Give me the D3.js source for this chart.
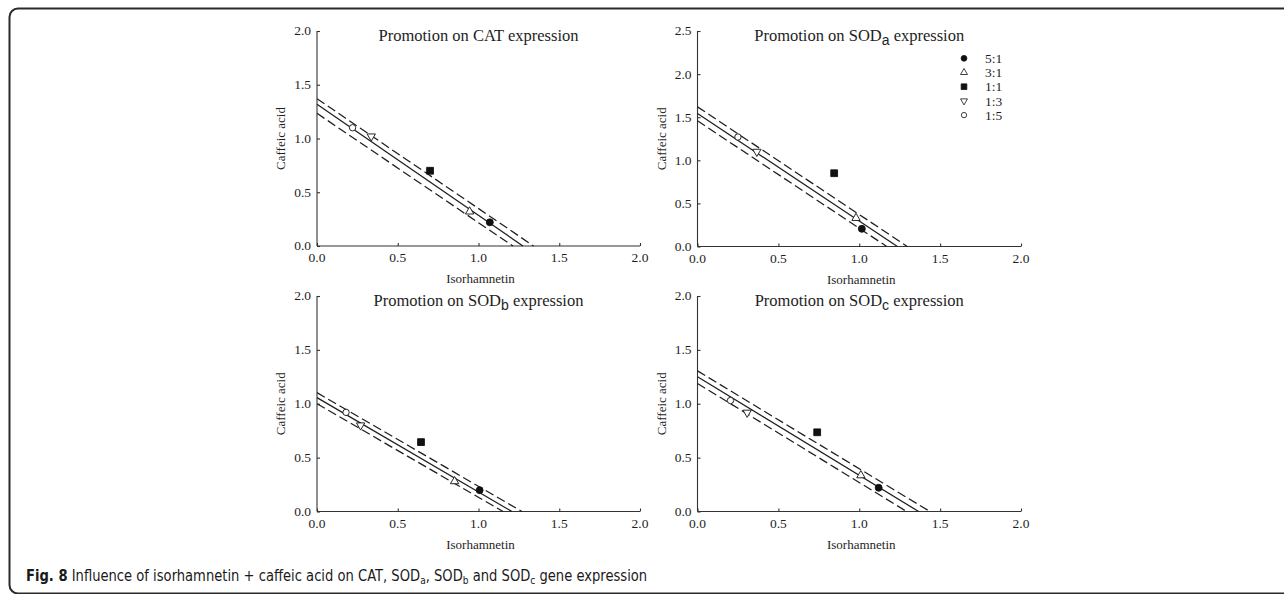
<!DOCTYPE html>
<html>
<head>
<meta charset="utf-8">
<script src="https://cdn.jsdelivr.net/npm/d3@7"></script>
<style>
    body { margin: 0; background: #fff; }
    svg { display: block; }
    .tick-label, .axis-title, .legend-text { font-family: "Liberation Serif", "Times New Roman", serif; fill: #1e1e1e; }
    .panel-title { font-family: "Liberation Serif", "Times New Roman", serif; fill: #1e1e1e; }
</style>
</head>
<body>
<div id="chart"></div>
<script>
'use strict';

// ratios isorhamnetin : caffeic acid, same order in every value array below
var ratios = ["5:1", "3:1", "1:1", "1:3", "1:5"];
var genes  = ["CAT", "SODa", "SODb", "SODc"];

var catIso  = [1.07, 0.945, 0.70, 0.336, 0.22];
var catCaf  = [0.22, 0.32, 0.70, 1.02, 1.10];
var sodaIso = [1.016, 0.98, 0.845, 0.367, 0.25];
var sodaCaf = [0.205, 0.33, 0.85, 1.10, 1.27];
var sodbIso = [1.007, 0.852, 0.644, 0.27, 0.18];
var sodbCaf = [0.198, 0.28, 0.644, 0.80, 0.92];
var sodcIso = [1.12, 1.01, 0.74, 0.307, 0.204];
var sodcCaf = [0.22, 0.335, 0.735, 0.918, 1.03];

// isobole lines: [caffeic acid intercept, isorhamnetin intercept] for lower, additive, upper
var catLines  = [[1.234, 1.213], [1.318, 1.275], [1.37, 1.341]];
var sodaLines = [[1.458, 1.17], [1.544, 1.236], [1.62, 1.297]];
var sodbLines = [[1.0, 1.152], [1.057, 1.207], [1.103, 1.269]];
var sodcLines = [[1.188, 1.293], [1.25, 1.367], [1.305, 1.437]];

var yMax      = [2.0, 2.5, 2.0, 2.0];
var xTicks    = [0, 0.5, 1.0, 1.5, 2.0];

var svgWidth = 1284, svgHeight = 594;

var svg = d3.select("#chart")
    .append("svg")
    .attr("width", svgWidth)
    .attr("height", svgHeight);

// rounded frame of the figure box
svg.append("path")
    .attr("d", "M1290,8.5 H18 A8.5,8.5 0 0 0 9.5,17 V585 A8.5,8.5 0 0 0 18,593.5 H1290")
    .attr("fill", "none")
    .attr("stroke", "#2a2a2a")
    .attr("stroke-width", 2);

var panels = [
    { gene: genes[0], sub: null, iso: catIso,  caf: catCaf,  lines: catLines,  x: [317, 640],   y: [246, 31] },
    { gene: "SOD",    sub: "a",  iso: sodaIso, caf: sodaCaf, lines: sodaLines, x: [697.5, 1021], y: [246.5, 31] },
    { gene: "SOD",    sub: "b",  iso: sodbIso, caf: sodbCaf, lines: sodbLines, x: [317, 640],   y: [511.5, 296] },
    { gene: "SOD",    sub: "c",  iso: sodcIso, caf: sodcCaf, lines: sodcLines, x: [697.5, 1021], y: [511.5, 296] }
];

var markerStyles = [
    { type: d3.symbolCircle,   fill: "#111", rotate: 0,   size: 38 },
    { type: d3.symbolTriangle, fill: "#fff", rotate: 0,   size: 30 },
    { type: d3.symbolSquare,   fill: "#111", rotate: 0,   size: 46 },
    { type: d3.symbolTriangle, fill: "#fff", rotate: 180, size: 30 },
    { type: d3.symbolCircle,   fill: "#fff", rotate: 0,   size: 32 }
];

panels.forEach(function(p, pi) {
    var x = d3.scaleLinear().domain([0, 2]).range(p.x);
    var y = d3.scaleLinear().domain([0, yMax[pi]]).range(p.y);
    var g = svg.append("g");

    // axes, ticks pointing inward
    var xAxis = d3.axisTop(x).tickValues(xTicks).tickSize(3).tickFormat("");
    var yAxis = d3.axisRight(y).tickValues(d3.range(0, yMax[pi] + 0.01, 0.5)).tickSize(3).tickFormat("");

    g.append("g")
        .attr("transform", "translate(0," + y(0) + ")")
        .call(xAxis)
        .call(function(s) { s.selectAll("path, line").attr("stroke", "#333").attr("stroke-width", 1.1); s.select(".domain").attr("d", "M" + x(0) + ",0H" + x(2)); });
    g.append("g")
        .attr("transform", "translate(" + x(0) + ",0)")
        .call(yAxis)
        .call(function(s) { s.selectAll("path, line").attr("stroke", "#333").attr("stroke-width", 1.1); s.select(".domain").attr("d", "M0," + y(0) + "V" + y(yMax[pi])); });

    g.selectAll(".xlab")
        .data(xTicks)
        .enter().append("text")
        .attr("class", "tick-label")
        .attr("x", function(d) { return x(d); })
        .attr("y", y(0) + 16)
        .attr("text-anchor", "middle")
        .style("font-size", "13.5px")
        .text(function(d) { return d3.format(".1f")(d); });

    g.selectAll(".ylab")
        .data(d3.range(0, yMax[pi] + 0.01, 0.5))
        .enter().append("text")
        .attr("class", "tick-label")
        .attr("x", x(0) - 6)
        .attr("y", function(d) { return y(d); })
        .attr("dy", "0.33em")
        .attr("text-anchor", "end")
        .style("font-size", "13.5px")
        .text(function(d) { return d3.format(".1f")(d); });

    g.append("text")
        .attr("class", "axis-title")
        .attr("x", (p.x[0] + p.x[1]) / 2 + 2)
        .attr("y", y(0) + 37)
        .attr("text-anchor", "middle")
        .style("font-size", "13px")
        .text("Isorhamnetin");

    g.append("text")
        .attr("class", "axis-title")
        .attr("transform", "translate(" + (x(0) - 32) + "," + ((p.y[0] + p.y[1]) / 2) + ") rotate(-90)")
        .attr("text-anchor", "middle")
        .style("font-size", "13px")
        .text("Caffeic acid");

    // title with subscript
    var title = g.append("text")
        .attr("class", "panel-title")
        .attr("x", (p.x[0] + p.x[1]) / 2)
        .attr("y", p.y[1] + 10)
        .attr("text-anchor", "middle")
        .style("font-size", "16.5px");
    title.append("tspan").text("Promotion on " + p.gene);
    if (p.sub) {
        title.append("tspan")
            .attr("dy", 4)
            .style("font-family", "'Liberation Sans', Arial, sans-serif")
            .style("font-size", "14px")
            .text(p.sub);
        title.append("tspan").attr("dy", -4).text(" expression");
    } else {
        title.append("tspan").text(" expression");
    }

    // isobole lines
    var dashes = ["9,4", null, "9,4"];
    g.selectAll(".iso-line")
        .data(p.lines)
        .enter().append("line")
        .attr("x1", x(0))
        .attr("y1", function(d) { return y(d[0]); })
        .attr("x2", function(d) { return x(d[1]); })
        .attr("y2", y(0))
        .attr("stroke", "#1e1e1e")
        .attr("stroke-width", 1.25)
        .attr("stroke-dasharray", function(d, i) { return dashes[i]; });

    // combination points
    g.selectAll(".pt")
        .data(ratios)
        .enter().append("path")
        .attr("d", function(d, i) { return d3.symbol().type(markerStyles[i].type).size(markerStyles[i].size)(); })
        .attr("transform", function(d, i) {
            return "translate(" + x(p.iso[i]) + "," + y(p.caf[i]) + ") rotate(" + markerStyles[i].rotate + ")";
        })
        .attr("fill", function(d, i) { return markerStyles[i].fill; })
        .attr("stroke", "#111")
        .attr("stroke-width", 0.9);

    // legend only on the SODa panel
    if (pi === 1) {
        var lg = g.selectAll(".legend")
            .data(ratios)
            .enter().append("g")
            .attr("transform", function(d, i) { return "translate(964," + (58.3 + i * 14.2) + ")"; });
        lg.append("path")
            .attr("d", function(d, i) { return d3.symbol().type(markerStyles[i].type).size(markerStyles[i].size * 0.7)(); })
            .attr("transform", function(d, i) { return "rotate(" + markerStyles[i].rotate + ")"; })
            .attr("fill", function(d, i) { return markerStyles[i].fill; })
            .attr("stroke", "#111")
            .attr("stroke-width", 0.8);
        lg.append("text")
            .attr("class", "legend-text")
            .attr("x", 21)
            .attr("dy", "0.35em")
            .style("font-size", "13.5px")
            .text(function(d) { return d; });
    }
});

// caption
var caption = svg.append("text")
    .attr("x", 26)
    .attr("y", 581)
    .style("font-family", "'Liberation Sans Narrow', 'DejaVu Sans Condensed', 'Noto Sans', sans-serif")
    .style("font-size", "16px")
    .style("fill", "#1a1a1a");
caption.append("tspan").style("font-weight", "bold").text("Fig. 8");
caption.append("tspan").text(" Influence of isorhamnetin + caffeic acid on CAT, SOD");
caption.append("tspan").attr("dy", 3).style("font-size", "11px").text("a");
caption.append("tspan").attr("dy", -3).text(", SOD");
caption.append("tspan").attr("dy", 3).style("font-size", "11px").text("b");
caption.append("tspan").attr("dy", -3).text(" and SOD");
caption.append("tspan").attr("dy", 3).style("font-size", "11px").text("c");
caption.append("tspan").attr("dy", -3).text(" gene expression");

// squeeze the caption to the condensed width of the original
var capWidth = caption.node().getBBox().width;
var sx = 622 / capWidth;
caption.attr("transform", "translate(26,0) scale(" + sx + ",1) translate(-26,0)");
</script>
</body>
</html>
